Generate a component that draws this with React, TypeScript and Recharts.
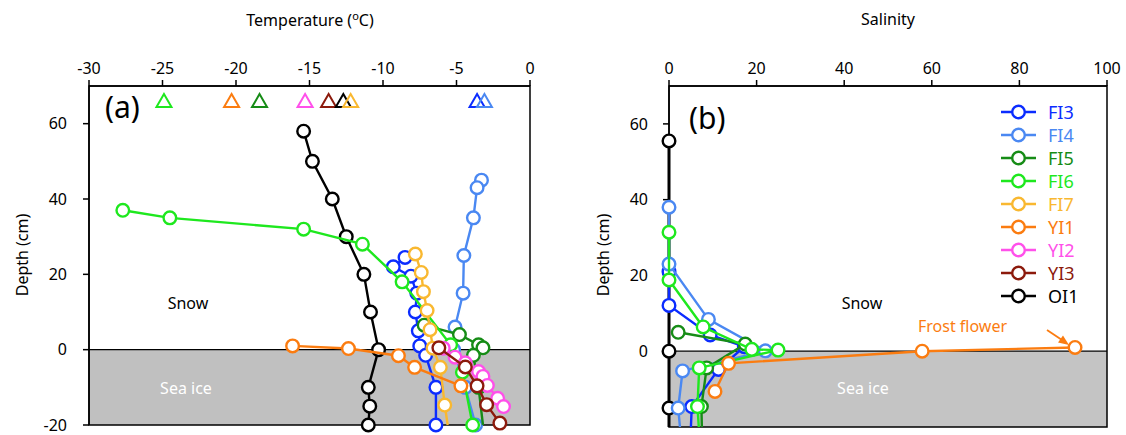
import React from 'react';
import { ScatterChart, Scatter, XAxis, YAxis, ReferenceArea, ReferenceLine, Legend } from 'recharts';

const FONT = '"Noto Sans", "Open Sans", sans-serif';

// ---- Series meta ----
const seriesNames = ['FI3', 'FI4', 'FI5', 'FI6', 'FI7', 'YI1', 'YI2', 'YI3', 'OI1'];
const seriesColors: Record<string, string> = {
  FI3: '#0b2cff',
  FI4: '#4a88f2',
  FI5: '#168c16',
  FI6: '#1ee81e',
  FI7: '#f9b830',
  YI1: '#fb7c10',
  YI2: '#ff50ea',
  YI3: '#8c1a0c',
  OI1: '#000000',
};

// ---- Panel (a): temperature (degC) vs depth (cm) ----
const tempOI1: [number, number][] = [[-15.4, 58], [-14.8, 50], [-13.45, 40], [-12.5, 30], [-11.3, 20], [-10.85, 10], [-10.3, 0], [-11, -10], [-10.9, -15], [-11, -20]];
const tempFI3: [number, number][] = [[-8.5, 24.5], [-9.3, 22], [-8.1, 19.5], [-7.7, 15], [-7.8, 10], [-7.6, 5], [-7.5, 1], [-7.1, -1.5], [-6.4, -10], [-6.4, -20]];
const tempFI4: [number, number][] = [[-3.3, 45], [-3.6, 43], [-3.85, 35], [-4.5, 25], [-4.55, 15], [-5.1, 6], [-5.2, 0], [-4.4, -10], [-3.7, -20]];
const tempFI5: [number, number][] = [[-7.2, 6.5], [-4.8, 4], [-3.5, 1.3], [-3.2, 0.5], [-3.85, -1.5], [-3.5, -10], [-3.2, -20]];
const tempFI6: [number, number][] = [[-27.7, 37], [-24.5, 35], [-15.4, 32], [-11.4, 28], [-8.7, 18], [-5.4, 1.3], [-4.6, -6], [-3.9, -20]];
const tempFI7: [number, number][] = [[-7.8, 25.4], [-7.4, 20.5], [-7.25, 15.4], [-7.0, 10.4], [-6.8, 5.3], [-6.6, 0.4], [-6.1, -4.7], [-5.8, -14.7], [-5.6, -20]];
const tempYI1: [number, number][] = [[-16.15, 1], [-12.35, 0.3], [-8.95, -1.6], [-7.85, -4.7], [-4.7, -9.6]];
const tempYI2: [number, number][] = [[-5.9, 0.4], [-5.1, -2], [-4.4, -3.5], [-3.5, -5.8], [-3.2, -7.1], [-2.9, -9.5], [-2.2, -12.9], [-1.8, -15.1]];
const tempYI3: [number, number][] = [[-6.2, 0.5], [-4.4, -4.6], [-3.6, -9.6], [-2.95, -14.6], [-2.05, -19.5]];

// air temperatures (triangles)
const airTempNames = ['FI6', 'YI1', 'FI5', 'YI2', 'YI3', 'OI1', 'FI7', 'FI3', 'FI4'];
const airTempValues = [-24.9, -20.3, -18.4, -15.3, -13.7, -12.7, -12.2, -3.6, -3.1];
const airTempDepth = 66;

// ---- Panel (b): salinity vs depth (cm) ----
const salOI1: [number, number][] = [[0, 55.5], [0, 0], [0, -15], [0, -20]];
const salFI3: [number, number][] = [[0, 21], [0, 12.1], [9.4, 4.3], [17.2, 1.2], [11.3, -4.8], [5.2, -14.6], [5, -20]];
const salFI4: [number, number][] = [[0, 38], [0, 23], [9, 8.4], [22, 0.1], [3.1, -5.2], [2.1, -15], [2.5, -20]];
const salFI5: [number, number][] = [[2.1, 5], [17.4, 1.9], [8.6, -4.4], [7.4, -14.6], [7.5, -20]];
const salFI6: [number, number][] = [[0, 31.4], [0, 18.8], [7.8, 6.4], [18.9, 0.5], [24.9, 0.3], [6.9, -4.4], [6.5, -14.6], [6.8, -20]];
const salYI1: [number, number][] = [[92.7, 1], [57.8, 0], [13.6, -3.2], [10.5, -10.6]];

const tempTicks = [-30, -25, -20, -15, -10, -5, 0];
const salTicks = [0, 20, 40, 60, 80, 100];
const depthTicks = [-20, 0, 20, 40, 60];

// Series whose bottom end (depth -20) carries no marker
const unmarkedEndsA = ['FI5', 'FI7'];
const unmarkedEndsB = ['FI3', 'FI4', 'FI5', 'FI6', 'OI1'];

const toPts = (arr: [number, number][]) => arr.map(([x, y]) => ({ x, y }));

const tempSeries: { name: string; data: [number, number][] }[] = [
  { name: 'OI1', data: tempOI1 },
  { name: 'FI3', data: tempFI3 },
  { name: 'FI4', data: tempFI4 },
  { name: 'FI5', data: tempFI5 },
  { name: 'FI6', data: tempFI6 },
  { name: 'FI7', data: tempFI7 },
  { name: 'YI1', data: tempYI1 },
  { name: 'YI2', data: tempYI2 },
  { name: 'YI3', data: tempYI3 },
];

const salSeries: { name: string; data: [number, number][] }[] = [
  { name: 'OI1', data: salOI1 },
  { name: 'FI3', data: salFI3 },
  { name: 'FI4', data: salFI4 },
  { name: 'FI5', data: salFI5 },
  { name: 'FI6', data: salFI6 },
  { name: 'YI1', data: salYI1 },
];

const R = 6.3;
const SW = 2.4;

const makeCircle = (color: string, hideBottom: boolean) => (props: any) => {
  const { cx, cy, payload } = props;
  if (cx == null || cy == null) return <g />;
  if (hideBottom && payload && payload.y <= -19.9) return <g />;
  return <circle cx={cx} cy={cy} r={R} fill="#fff" stroke={color} strokeWidth={SW} />;
};

const triangleShape = (props: any) => {
  const { cx, cy, payload } = props;
  const c = seriesColors[payload.name];
  const h = 12;
  const w = 15;
  return (
    <polygon
      points={`${cx},${cy - h / 2 - 1} ${cx - w / 2},${cy + h / 2} ${cx + w / 2},${cy + h / 2}`}
      fill="none"
      stroke={c}
      strokeWidth={2}
      strokeLinejoin="miter"
    />
  );
};

const axisStroke = { stroke: '#000', strokeWidth: 1.5 };
const tickStyle = { fill: '#000', fontSize: 16, fontFamily: FONT };

const renderLegend = () => (
  <div style={{ fontFamily: FONT }}>
    {seriesNames.map((n) => (
      <div key={n} style={{ display: 'flex', alignItems: 'center', height: 22.9 }}>
        <svg width={38} height={16} style={{ display: 'block' }}>
          <line x1={1} y1={8} x2={36} y2={8} stroke={seriesColors[n]} strokeWidth={SW} />
          <circle cx={18.5} cy={8} r={R} fill="#fff" stroke={seriesColors[n]} strokeWidth={SW} />
        </svg>
        <span style={{ color: seriesColors[n], fontSize: 18, marginLeft: 10, lineHeight: '16px' }}>{n}</span>
      </div>
    ))}
  </div>
);

const abs = (left: number, top: number, extra: React.CSSProperties = {}): React.CSSProperties => ({
  position: 'absolute',
  left,
  top,
  fontFamily: FONT,
  whiteSpace: 'nowrap',
  ...extra,
});

export default function App() {
  const triData = airTempNames.map((name, i) => ({ x: airTempValues[i], y: airTempDepth, name }));
  return (
    <div style={{ position: 'absolute', left: 0, top: 0, width: 1126, height: 435, background: '#fff', overflow: 'hidden' }}>
      {/* Panel (a) */}
      <div style={{ position: 'absolute', left: 0, top: 0 }}>
        <ScatterChart width={560} height={435} margin={{ top: 56, right: 30, bottom: 10, left: 49 }}>
          <XAxis
            xAxisId="a"
            type="number"
            dataKey="x"
            orientation="top"
            domain={[-30, 0]}
            ticks={tempTicks}
            height={30}
            tickSize={6}
            tickMargin={6}
            axisLine={axisStroke}
            tickLine={axisStroke}
            tick={tickStyle}
          />
          <YAxis
            yAxisId="a"
            type="number"
            dataKey="y"
            domain={[-20, 70]}
            ticks={depthTicks}
            width={40}
            tickSize={6}
            tickMargin={16}
            axisLine={axisStroke}
            tickLine={axisStroke}
            tick={tickStyle}
          />
          <ReferenceArea xAxisId="a" yAxisId="a" x1={-30} x2={0} y1={-20} y2={0} fill="#c0c0c0" fillOpacity={1} stroke="none" />
          <ReferenceArea xAxisId="a" yAxisId="a" x1={-30} x2={0} y1={-20} y2={70} fill="none" stroke="#000" strokeWidth={1.5} />
          <ReferenceLine xAxisId="a" yAxisId="a" y={0} stroke="#000" strokeWidth={1.3} />
          {tempSeries.map((s) => (
            <Scatter
              key={s.name}
              xAxisId="a"
              yAxisId="a"
              name={s.name}
              data={toPts(s.data)}
              line={{ stroke: seriesColors[s.name], strokeWidth: SW }}
              lineType="joint"
              shape={makeCircle(seriesColors[s.name], unmarkedEndsA.includes(s.name))}
              isAnimationActive={false}
            />
          ))}
          <Scatter xAxisId="a" yAxisId="a" name="air" data={triData} shape={triangleShape} isAnimationActive={false} />
        </ScatterChart>
      </div>

      {/* Panel (b) */}
      <div style={{ position: 'absolute', left: 580, top: 0 }}>
        <ScatterChart width={546} height={435} margin={{ top: 56, right: 19, bottom: 8, left: 49 }}>
          <XAxis
            xAxisId="b"
            type="number"
            dataKey="x"
            orientation="top"
            domain={[0, 100]}
            ticks={salTicks}
            height={30}
            tickSize={6}
            tickMargin={6}
            axisLine={axisStroke}
            tickLine={axisStroke}
            tick={tickStyle}
          />
          <YAxis
            yAxisId="b"
            type="number"
            dataKey="y"
            domain={[-20, 70]}
            ticks={depthTicks}
            width={40}
            tickSize={6}
            tickMargin={15}
            axisLine={axisStroke}
            tickLine={axisStroke}
            tick={tickStyle}
          />
          <ReferenceArea xAxisId="b" yAxisId="b" x1={0} x2={100} y1={-20} y2={0} fill="#c4c4c4" fillOpacity={1} stroke="none" />
          <ReferenceArea xAxisId="b" yAxisId="b" x1={0} x2={100} y1={-20} y2={70} fill="none" stroke="#000" strokeWidth={1.5} />
          <ReferenceLine xAxisId="b" yAxisId="b" y={0} stroke="#000" strokeWidth={1.3} />
          {salSeries.map((s) => (
            <Scatter
              key={s.name}
              xAxisId="b"
              yAxisId="b"
              name={s.name}
              data={toPts(s.data)}
              line={{ stroke: seriesColors[s.name], strokeWidth: s.name === 'OI1' ? 3 : SW }}
              lineType="joint"
              shape={makeCircle(seriesColors[s.name], unmarkedEndsB.includes(s.name))}
              isAnimationActive={false}
            />
          ))}
          <Legend
            layout="vertical"
            align="center"
            verticalAlign="middle"
            wrapperStyle={{ left: 420, top: 101, width: 100 }}
            content={renderLegend}
          />
        </ScatterChart>
      </div>

      {/* Axis titles */}
      <div style={abs(310, 8, { transform: 'translateX(-50%)', fontSize: 16 })}>
        Temperature (<sup style={{ fontSize: 11 }}>o</sup>C)
      </div>
      <div style={abs(888, 8, { transform: 'translateX(-50%)', fontSize: 16 })}>Salinity</div>
      <div style={abs(22, 255, { transform: 'translate(-50%, -50%) rotate(-90deg)', fontSize: 16 })}>Depth (cm)</div>
      <div style={abs(603, 255, { transform: 'translate(-50%, -50%) rotate(-90deg)', fontSize: 16 })}>Depth (cm)</div>

      {/* Panel labels and region text */}
      <div style={abs(105, 86, { fontSize: 30 })}>(a)</div>
      <div style={abs(689, 97, { fontSize: 30 })}>(b)</div>
      <div style={abs(188, 303, { transform: 'translate(-50%, -50%)', fontSize: 16 })}>Snow</div>
      <div style={abs(186, 388, { transform: 'translate(-50%, -50%)', fontSize: 16, color: '#fff' })}>Sea ice</div>
      <div style={abs(862, 303, { transform: 'translate(-50%, -50%)', fontSize: 16 })}>Snow</div>
      <div style={abs(863, 388, { transform: 'translate(-50%, -50%)', fontSize: 16, color: '#fff' })}>Sea ice</div>
      <div style={abs(918, 315, { fontSize: 16, color: seriesColors.YI1 })}>Frost flower</div>
      <svg style={{ position: 'absolute', left: 0, top: 0 }} width={1126} height={435} pointerEvents="none">
        <line x1={1047} y1={330} x2={1062} y2={340} stroke={seriesColors.YI1} strokeWidth={1.8} />
        <polygon points="1069,345 1058,342.5 1063,335.5" fill={seriesColors.YI1} />
      </svg>
    </div>
  );
}
